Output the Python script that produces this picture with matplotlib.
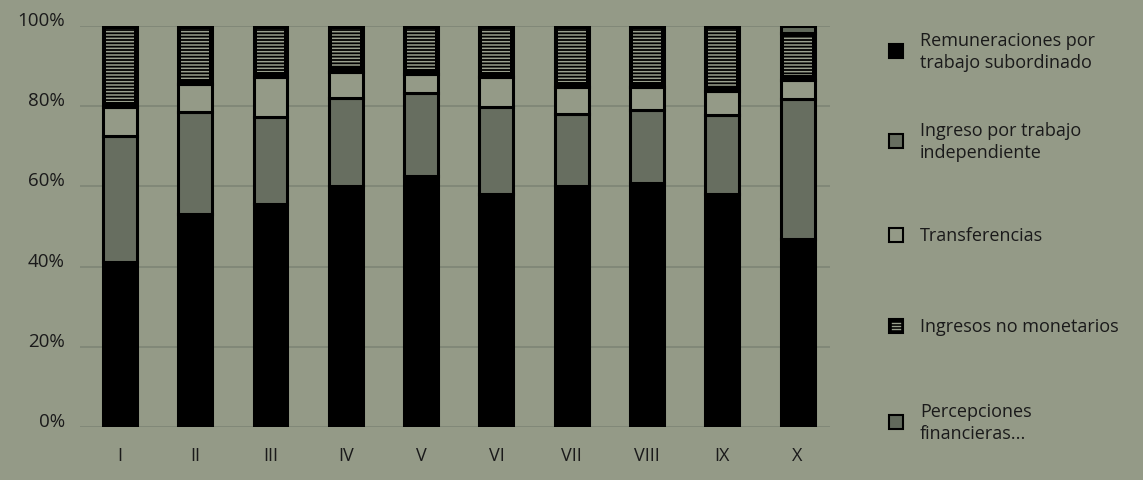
import numpy as np
import matplotlib
matplotlib.use("Agg")
import matplotlib.pyplot as plt
import matplotlib.transforms as mtransforms
from matplotlib.patches import Rectangle

# Datos (porcentajes por decil)
deciles = ["I", "II", "III", "IV", "V", "VI", "VII", "VIII", "IX", "X"]
remuneraciones = [41.1, 53.1, 55.6, 60.1, 62.6, 58.1, 60.1, 60.8, 58.1, 46.9]
independiente = [31.5, 25.5, 21.6, 21.9, 20.8, 21.8, 18.0, 18.3, 19.7, 34.9]
transferencias = [7.2, 6.9, 10.2, 6.5, 4.7, 7.5, 6.8, 5.7, 6.0, 4.8]
percepciones = [0, 0, 0, 0, 0, 0, 0, 0, 0, 1.8]
no_monetarios = [100 - a - b - c - d for a, b, c, d in
                 zip(remuneraciones, independiente, transferencias, percepciones)]

etiquetas = ["Remuneraciones por\ntrabajo subordinado",
             "Ingreso por trabajo\nindependiente",
             "Transferencias",
             "Ingresos no monetarios",
             "Percepciones\nfinancieras..."]

fondo = "#949a87"
gris_indep = "#676e60"
gris_perc = "#626a5c"
rejilla = "#7e8575"
linea_hatch = "#9aa08e"

plt.rcParams['font.family'] = ['Open Sans', 'DejaVu Sans']
plt.rcParams['hatch.linewidth'] = 1.1

fig = plt.figure(figsize=(11.43, 4.81), dpi=100, facecolor=fondo)
ax = fig.add_axes([80 / 1143, 53 / 481, 750 / 1143, 401 / 481])
ax.set_facecolor(fondo)

x = np.arange(len(deciles))
w = 0.45
lw = 2.2

ax.bar(x, remuneraciones, w, color="black", edgecolor="black", linewidth=lw, zorder=3)
b = np.array(remuneraciones)
ax.bar(x, independiente, w, bottom=b, color=gris_indep, edgecolor="black", linewidth=lw, zorder=3)
b = b + np.array(independiente)
ax.bar(x, transferencias, w, bottom=b, color=fondo, edgecolor="black", linewidth=lw, zorder=3)
b = b + np.array(transferencias)
# Ingresos no monetarios: fondo negro con lineas grises, con marco negro
nm = np.array(no_monetarios)
ax.bar(x, nm, w, bottom=b, color="black", edgecolor="black", linewidth=lw, zorder=3)
ax.bar(x, nm - 2.0, w - 0.08, bottom=b + 1.2, color="black", edgecolor=linea_hatch,
       hatch="-----", linewidth=0, zorder=4)
b = b + nm
# Percepciones financieras
ax.bar(x, percepciones, w, bottom=b, color=gris_perc, edgecolor="black", linewidth=lw, zorder=4)

ax.set_ylim(0, 100)
ax.set_xlim(-0.53, 9.43)
ax.set_yticks([0, 20, 40, 60, 80, 100])
ax.set_yticklabels(["0%", "20%", "40%", "60%", "80%", "100%"], fontsize=13.5, color="#1a1a1a")
ax.set_xticks(x)
ax.set_xticklabels(deciles, fontsize=13, color="#1a1a1a")
ax.tick_params(length=0, pad=14)
ax.tick_params(axis="y", pad=11)
desplazar = mtransforms.ScaledTranslation(0, 8 / 100, fig.dpi_scale_trans)
for t in ax.get_yticklabels():
    t.set_transform(t.get_transform() + desplazar)
ax.grid(axis="y", color=rejilla, linewidth=1.2, zorder=0)
for s in ax.spines.values():
    s.set_visible(False)

# Leyenda manual
ley_y = [52, 142, 236, 327, 423]
colores = ["black", gris_indep, fondo, "black", gris_perc]
for i, (yy, lab, col) in enumerate(zip(ley_y, etiquetas, colores)):
    yf = 1 - yy / 481
    r = Rectangle((889 / 1143, yf - 7 / 481), 14 / 1143, 14 / 481,
                  transform=fig.transFigure, facecolor=col, edgecolor="black",
                  linewidth=1.5)
    fig.add_artist(r)
    if i == 3:
        for k in range(3):
            ly = yf + (-3 + 3 * k) / 481
            fig.add_artist(plt.Line2D([892 / 1143, 900 / 1143], [ly, ly],
                                      transform=fig.transFigure, color=linea_hatch, linewidth=1))
    fig.text(920 / 1143, yf, lab, fontsize=13, color="#1a1a1a", va="center", ha="left",
             linespacing=1.3)

fig.savefig("out.png", dpi=100, facecolor=fondo)
